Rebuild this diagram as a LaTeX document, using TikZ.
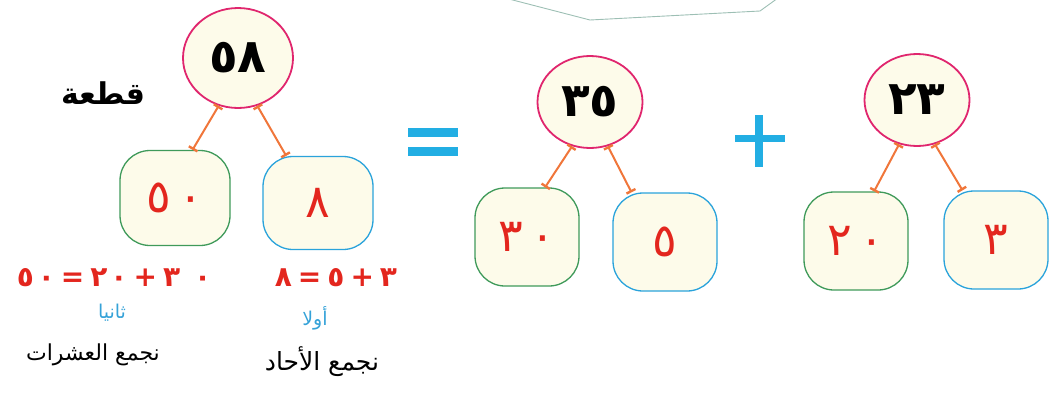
\documentclass[tikz,border=0pt]{standalone}
\usepackage{fontspec}
\newfontfamily\arabicfont[Script=Arabic]{DejaVu Sans}
\TeXXeTstate=1
\usetikzlibrary{shapes.geometric,arrows.meta}

\begin{document}
\begin{tikzpicture}[x=1pt, y=-1pt,
    total/.style={ellipse, draw=totalColour, fill=fillColour, line width=1.8pt,
        minimum width=105pt, minimum height=92pt, inner sep=0pt,
        font=\arabicfont\bfseries\fontsize{47}{47}\selectfont},
    tens/.style={rectangle, rounded corners=30pt, draw=tensColour, fill=fillColour,
        line width=1.3pt, minimum width=104pt, minimum height=98pt, inner sep=0pt,
        text=digitColour, font=\arabicfont\fontsize{46}{46}\selectfont},
    ones/.style={tens, draw=onesColour},
    link/.style={draw=linkColour, line width=2pt, {Bar[width=10pt,line width=2.4pt]}-{Bar[width=10pt,line width=2.4pt]}},
    sign/.style={draw=signColour, line width=8pt}]
    \definecolor{totalColour}{HTML}{E0266E}
    \definecolor{fillColour}{HTML}{FDFBEA}
    \definecolor{tensColour}{HTML}{3F9A5A}
    \definecolor{onesColour}{HTML}{2AA3DB}
    \definecolor{digitColour}{HTML}{E3261E}
    \definecolor{linkColour}{HTML}{F0763A}
    \definecolor{signColour}{HTML}{22AEE3}
    \definecolor{noteColour}{HTML}{35A2D8}
    \definecolor{calloutColour}{HTML}{9DBFB4}

    \useasboundingbox (0,0) rectangle (1057,394);

    % Bottom edge of the callout above
    \draw[calloutColour, line width=0.9pt] (505,-2) -- (590,20) -- (760,11) -- (778,-2);

    % Totals
    \node[total, minimum width=110pt, minimum height=100pt] (c58) at (238,58) {٥٨};
    \node[total] (c35) at (590,102) {٣٥};
    \node[total] (c23) at (917,100) {٢٣};

    % Tens and ones
    \node[tens, minimum width=110pt, minimum height=95pt] (b50) at (175,198) {٥\hspace{7pt}٠};
    \node[ones, minimum width=110pt, minimum height=93pt] (b8) at (318,203) {٨};
    \node[tens] (b30) at (527,237) {٣\hspace{7pt}٠};
    \node[ones] (b5) at (665,242) {٥};
    \node[tens] (b20) at (856,241) {٢\hspace{7pt}٠};
    \node[ones] (b3) at (996,240) {٣};

    % Links from the parts to the totals
    \foreach \t/\o/\u in {58/50/8, 35/30/5, 23/20/3} {
        \draw[link] (b\o.70) -- (c\t.248);
        \draw[link] (c\t.292) -- (b\u.124);
    }

    % Equals and plus signs
    \draw[sign, line width=9pt] (408,132) -- (458,132);
    \draw[sign, line width=9pt] (408,151) -- (458,151);
    \draw[sign, line width=7pt] (735,138) -- (785,138);
    \draw[sign] (759,115) -- (759,167);

    % Title word
    \node[font=\arabicfont\bfseries\fontsize{30}{30}\selectfont] (title) at (103,93) {\beginR قطعة\endR};

    % Working underneath
    \node[text=digitColour, font=\arabicfont\bfseries\fontsize{28}{28}\selectfont] (eqTens) at (114,278)
        {٥\hspace{4pt}٠\hspace{6pt}=\hspace{6pt}٢\hspace{3pt}٠\hspace{6pt}+\hspace{6pt}٣\hspace{14pt}٠};
    \node[text=digitColour, font=\arabicfont\bfseries\fontsize{28}{28}\selectfont] (eqOnes) at (336,278)
        {٨\hspace{6pt}=\hspace{6pt}٥\hspace{6pt}+\hspace{6pt}٣};
    \node[text=noteColour, font=\arabicfont\fontsize{19}{19}\selectfont] (second) at (112,313) {\beginR ثانيا\endR};
    \node[text=noteColour, font=\arabicfont\fontsize{19}{19}\selectfont] (first) at (315,318) {\beginR أولا\endR};
    \node[font=\arabicfont\fontsize{22}{22}\selectfont] (sumTens) at (93,355) {\beginR نجمع العشرات\endR};
    \node[font=\arabicfont\fontsize{25}{25}\selectfont] (sumOnes) at (322,362) {\beginR نجمع الأحاد\endR};

\end{tikzpicture}
\end{document}
